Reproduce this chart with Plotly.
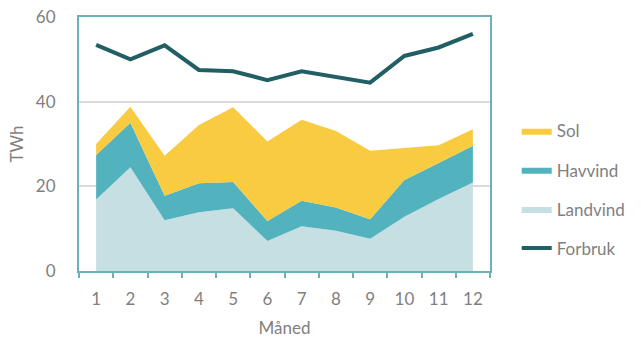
import plotly.graph_objects as go

# Monthly production and consumption, TWh
months = ["1", "2", "3", "4", "5", "6", "7", "8", "9", "10", "11", "12"]
landvind = [16.9, 24.5, 12.0, 13.9, 14.8, 7.1, 10.6, 9.5, 7.6, 12.8, 17.0, 20.9]
havvind = [10.5, 10.5, 5.8, 6.8, 6.2, 4.7, 6.0, 5.5, 4.6, 8.7, 8.5, 8.7]
sol = [2.6, 3.8, 9.4, 13.8, 17.7, 18.8, 19.1, 18.1, 16.2, 7.5, 4.2, 3.9]
forbruk = [53.4, 50.0, 53.3, 47.5, 47.2, 45.1, 47.2, 45.9, 44.5, 50.8, 52.8, 56.0]

C_LAND = "#C6DFE2"
C_HAV = "#52B3BE"
C_SOL = "#F9CB40"
C_FORBRUK = "#225F65"
C_AXIS = "#6FB0B8"
C_TEXT = "#7F7F7F"
FONT = "Lato, Open Sans, sans-serif"

fig = go.Figure()

for name, vals, col, rank in [
    ("Landvind", landvind, C_LAND, 3),
    ("Havvind", havvind, C_HAV, 2),
    ("Sol", sol, C_SOL, 1),
]:
    fig.add_trace(go.Scatter(
        x=months, y=vals, name=name, mode="lines",
        stackgroup="prod", line=dict(width=0, color=col),
        fillcolor=col, legendrank=rank, legendgroup=name,
    ))

fig.add_trace(go.Scatter(
    x=months, y=forbruk, name="Forbruk", mode="lines",
    line=dict(color=C_FORBRUK, width=4), legendrank=4, legendgroup="Forbruk",
))

fig.update_layout(
    width=641, height=339,
    margin=dict(l=79, r=151, t=17, b=68, autoexpand=False),
    paper_bgcolor="white", plot_bgcolor="white",
    font=dict(family=FONT, size=17, color=C_TEXT),
    legend=dict(
        x=1.065, y=0.32, xanchor="left", yanchor="middle",
        font=dict(size=17, color=C_TEXT), tracegroupgap=14,
        itemwidth=30,
    ),
    xaxis=dict(
        title=dict(text="Måned", font=dict(size=17, color=C_TEXT), standoff=14),
        type="category", range=[-0.5, 11.5], tickson="boundaries",
        ticks="outside", ticklen=5, tickcolor=C_AXIS, tickwidth=1.5,
        showline=True, linecolor=C_AXIS, linewidth=2, mirror=True,
        showgrid=False, ticklabelstandoff=12, automargin=False,
        tickfont=dict(size=17, color=C_TEXT),
    ),
    yaxis=dict(
        title=dict(text="TWh", font=dict(size=17, color=C_TEXT), standoff=8),
        range=[0, 60], dtick=20, showgrid=True, gridcolor="#D9D9D9",
        gridwidth=1.5, zeroline=False, showline=True, linecolor=C_AXIS,
        linewidth=2, mirror=True, ticks="", ticklabelstandoff=18,
        automargin=False, tickfont=dict(size=17, color=C_TEXT),
    ),
)

fig.write_html("out.html")
